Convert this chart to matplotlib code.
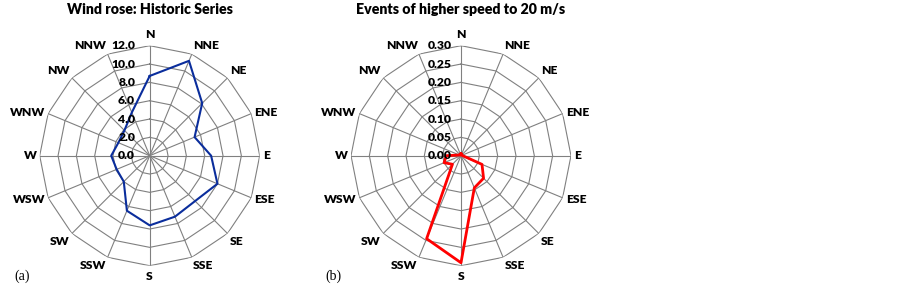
import numpy as np
import matplotlib.pyplot as plt

directions = ['N', 'NNE', 'NE', 'ENE', 'E', 'ESE', 'SE', 'SSE',
              'S', 'SSW', 'SW', 'WSW', 'W', 'WNW', 'NW', 'NNW']

# wind rose, historic series
historic = [8.7, 11.2, 8.1, 5.3, 6.7, 8.0, 7.0, 7.2,
            7.6, 6.5, 4.0, 3.9, 4.2, 3.7, 3.9, 5.1]
rings_a = [0.0, 2.0, 4.0, 6.0, 8.0, 10.0, 12.0]
ring_labels_a = ['0.0', '2.0', '4.0', '6.0', '8.0', '10.0', '12.0']

# events with speed higher than 20 m/s
events = [0.005, 0.002, 0.002, 0.003, 0.005, 0.062, 0.087, 0.095,
          0.292, 0.245, 0.033, 0.050, 0.040, 0.005, 0.003, 0.003]
rings_b = [0.0, 0.05, 0.10, 0.15, 0.20, 0.25, 0.30]
ring_labels_b = ['0.00', '0.05', '0.10', '0.15', '0.20', '0.25', '0.30']

W, H = 902, 289
fig = plt.figure(figsize=(W / 100, H / 100), dpi=100)
sans = ['Lato', 'DejaVu Sans']


def rose(cx, cy, rad, values, rings, ring_labels, color, lw, title, tag, lab_off):
    ax = fig.add_axes([(cx - rad) / W, (H - cy - rad) / H, 2 * rad / W, 2 * rad / H],
                      projection='polar')
    ax.set_theta_zero_location('N')
    ax.set_theta_direction(-1)
    ax.grid(False)
    ax.set_xticks([])
    ax.set_yticks([])
    ax.spines['polar'].set_visible(False)
    ax.patch.set_alpha(0)
    rmax = rings[-1]
    ax.set_ylim(0, rmax)

    theta = np.deg2rad(np.arange(len(directions)) * 22.5)
    closed = np.append(theta, theta[0])

    # polygon grid
    for r in rings[1:]:
        ax.plot(closed, [r] * len(closed), color='#808080', lw=0.8, zorder=1)
    for t in theta:
        ax.plot([t, t], [0, rmax], color='#808080', lw=0.8, zorder=1)

    ax.plot(closed, np.append(values, values[0]), color=color, lw=lw, zorder=3)

    # direction labels
    for t, name in zip(theta, directions):
        s, c = np.sin(t), np.cos(t)
        ha = 'left' if s > 0.1 else ('right' if s < -0.1 else 'center')
        if abs(c) < 0.5:
            va = 'center'
        else:
            va = 'bottom' if c > 0 else 'top'
        rr = 1.05 if abs(s) < 0.1 else 1.03
        ax.text(t, rmax * rr, name, ha=ha, va=va, fontsize=8.7,
                fontweight='heavy', family=sans, clip_on=False)

    # radial labels
    for r, lab in zip(rings, ring_labels):
        ax.annotate(lab, xy=(0, r), xytext=(-lab_off, 0), textcoords='offset points',
                    ha='right', va='center', fontsize=8.7, fontweight='heavy',
                    family=sans, zorder=4)

    fig.text(cx / W, 1 - 10 / H, title, ha='center', va='center', fontsize=10.2,
             fontweight='heavy', family=sans)
    fig.text((cx - 128) / W, 1 - 276 / H, tag, ha='center', va='center',
             fontsize=10, family=['Liberation Serif', 'DejaVu Serif'])


rose(149.7, 155.7, 110, historic, rings_a, ring_labels_a, '#0a2d9c', 1.5,
     'Wind rose: Historic Series', '(a)', 10.5)
rose(461, 155.7, 110, events, rings_b, ring_labels_b, '#ff0000', 2.0,
     'Events of higher speed to 20 m/s', '(b)', 6.7)

fig.savefig('out.png', dpi=100)
